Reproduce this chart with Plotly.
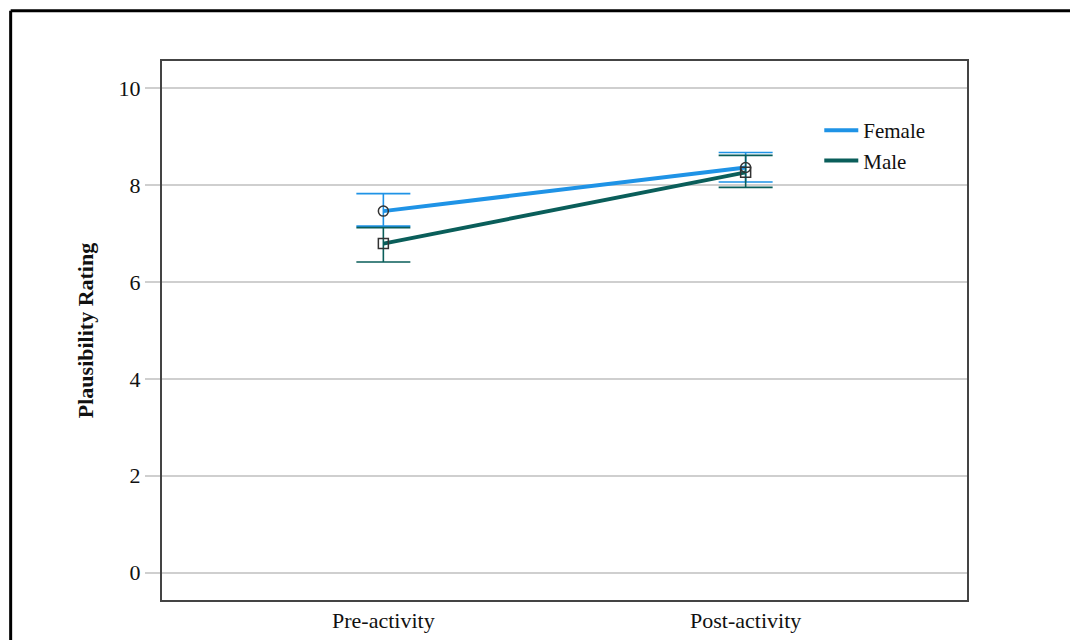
import plotly.graph_objects as go

# Estimated marginal means with 95% CI
phases = ["Pre-activity", "Post-activity"]
female_mean = [7.46, 8.36]
female_low = [7.15, 8.06]
female_high = [7.82, 8.67]
male_mean = [6.79, 8.26]
male_low = [6.41, 7.95]
male_high = [7.12, 8.61]
y_ticks = [0, 2, 4, 6, 8, 10]

FEMALE_COLOR = "#1f93e6"
MALE_COLOR = "#0a5e5a"
FONT = "Liberation Serif, Times New Roman, serif"

fig = go.Figure()


def add_group(name, mean, low, high, color):
    plus = [h - m for h, m in zip(high, mean)]
    minus = [m - l for m, l in zip(mean, low)]
    # confidence interval whiskers
    fig.add_trace(go.Scatter(
        x=phases, y=mean, mode="markers", showlegend=False, hoverinfo="skip",
        marker=dict(size=1, color="rgba(0,0,0,0)"),
        error_y=dict(type="data", symmetric=False, array=plus, arrayminus=minus,
                     color=color, thickness=1.6, width=27),
    ))
    # mean line
    fig.add_trace(go.Scatter(
        x=phases, y=mean, mode="lines", name=name,
        line=dict(color=color, width=4),
    ))


add_group("Female", female_mean, female_low, female_high, FEMALE_COLOR)
add_group("Male", male_mean, male_low, male_high, MALE_COLOR)

# point markers on top of the lines
fig.add_trace(go.Scatter(
    x=phases, y=female_mean, mode="markers", showlegend=False,
    marker=dict(symbol="circle-open", size=10, color="#333333", line=dict(width=1.5)),
))
fig.add_trace(go.Scatter(
    x=phases, y=male_mean, mode="markers", showlegend=False,
    marker=dict(symbol="square-open", size=10, color="#333333", line=dict(width=1.5)),
))

fig.update_layout(
    width=1070, height=640,
    margin=dict(l=162, r=103, t=61, b=40, autoexpand=False),
    paper_bgcolor="white", plot_bgcolor="white",
    font=dict(family=FONT, size=22, color="#111111"),
    legend=dict(x=0.8165, y=0.909, xanchor="left", yanchor="top",
                bgcolor="rgba(0,0,0,0)", font=dict(size=21),
                itemwidth=34, tracegroupgap=0),
    showlegend=True,
)

fig.update_xaxes(
    type="category", range=[-0.611, 1.611], automargin=False,
    showgrid=False, zeroline=False,
    showline=True, linecolor="#444444", linewidth=2, mirror=True,
    ticks="", tickfont=dict(size=22), ticklabelstandoff=0,
)
fig.update_yaxes(
    range=[-0.563, 10.557], tickvals=y_ticks, automargin=False,
    showgrid=True, gridcolor="#cfcfcf", gridwidth=1.5, zeroline=False,
    showline=True, linecolor="#444444", linewidth=2, mirror=True,
    ticks="outside", ticklen=15, tickcolor="#cfcfcf", tickwidth=1.5,
    tickfont=dict(size=22),
    title=dict(text="<b>Plausibility Rating</b>", font=dict(size=22), standoff=19),
)

# outer frame: top and left edges
fig.add_shape(type="line", xref="paper", yref="paper",
              x0=-0.188, x1=1.15, y0=1.093, y1=1.093,
              line=dict(color="black", width=3))
fig.add_shape(type="line", xref="paper", yref="paper",
              x0=-0.188, x1=-0.188, y0=1.093, y1=-0.09,
              line=dict(color="black", width=3))

fig.write_html("out.html")
